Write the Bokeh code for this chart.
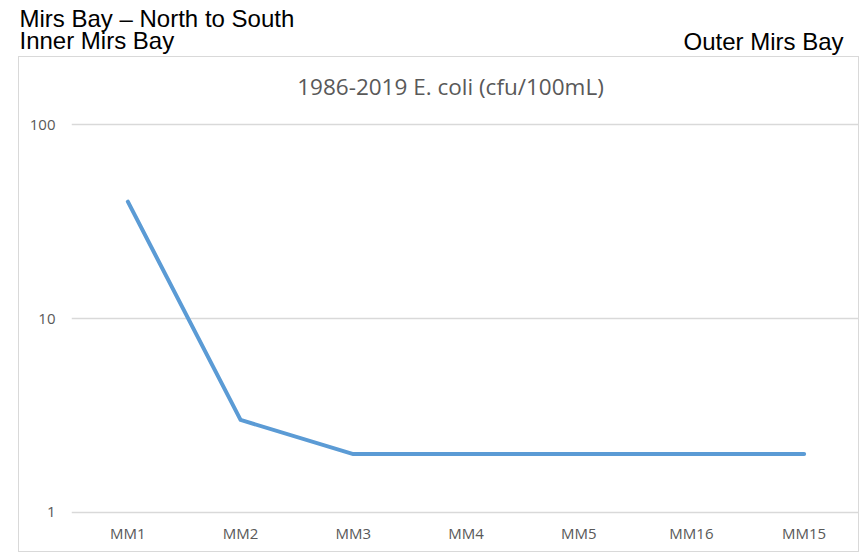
from bokeh.plotting import figure
from bokeh.layouts import column
from bokeh.models import (FactorRange, Range1d, FixedTicker, NumeralTickFormatter,
                          Label, ColumnDataSource)
from bokeh.embed import file_html
from bokeh.resources import INLINE

stations = ["MM1", "MM2", "MM3", "MM4", "MM5", "MM16", "MM15"]
ecoli = [40, 3, 2, 2, 2, 2, 2]
y_ticks = [1, 10, 100]

header_title = "Mirs Bay \u2013 North to South"
header_left = "Inner Mirs Bay"
header_right = "Outer Mirs Bay"
chart_title = "1986-2019 E. coli (cfu/100mL)"

BASE_FIX = 9  # Label baseline correction (px)

# ---------- header (frame = whole canvas) ----------
HW, HH = 866, 56
head = figure(width=HW, height=HH, output_backend="svg", toolbar_location=None,
              x_range=Range1d(0, HW), y_range=Range1d(0, HH),
              min_border=0)
head.frame_align = False
head.axis.visible = False
head.grid.visible = False
head.outline_line_color = None


def hlab(text, sx, sy, align="left"):
    return Label(x=sx, y=HH - (sy - BASE_FIX), x_units="screen", y_units="screen",
                 text=text, text_align=align, text_baseline="alphabetic",
                 text_font="Liberation Sans", text_font_size="24px",
                 text_color="black")


head.add_layout(hlab(header_title, 19, 27))
head.add_layout(hlab(header_left, 19, 49))
head.add_layout(hlab(header_right, 843, 50, align="right"))

# ---------- chart ----------
CW, CH = 841, 496          # canvas inside the light border
FL, FB = 52, 458           # frame left / bottom in canvas px
p = figure(width=CW, height=CH, output_backend="svg", toolbar_location=None,
           x_range=FactorRange(*stations), y_axis_type="log",
           y_range=Range1d(0.965, 221.5),
           min_border_left=FL, min_border_right=0,
           min_border_top=0, min_border_bottom=CH - FB)
p.frame_align = False
p.outline_line_color = None
p.margin = (0, 0, 0, 18)
p.styles = {"border": "1px solid #d9d9d9"}

src = ColumnDataSource(dict(x=stations, y=ecoli))
p.line("x", "y", source=src, line_color="#5b9bd5", line_width=4,
       line_join="round", line_cap="round")

for ax in (p.xaxis[0], p.yaxis[0]):
    ax.axis_line_color = None
    ax.major_tick_line_color = None
    ax.minor_tick_line_color = None
    ax.major_tick_out = 0
    ax.minor_tick_out = 0
    ax.major_label_text_font = "Open Sans"
    ax.major_label_text_font_size = "15px"
    ax.major_label_text_color = "#595959"
p.yaxis.ticker = FixedTicker(ticks=y_ticks, minor_ticks=[])
p.yaxis.formatter = NumeralTickFormatter(format="0")
p.yaxis.major_label_standoff = 16
p.xaxis.major_label_standoff = 7

p.xgrid.grid_line_color = None
p.ygrid.ticker = FixedTicker(ticks=y_ticks, minor_ticks=[])
p.ygrid.grid_line_color = "#d9d9d9"
p.ygrid.grid_line_width = 1.5

p.add_layout(Label(x=379, y=FB - (39 - 10), x_units="screen", y_units="screen",
                   text=chart_title, text_align="center",
                   text_baseline="alphabetic", text_font="Open Sans",
                   text_font_size="22.5px", text_color="#595959"))

layout = column(head, p, spacing=0)
open("out.html", "w").write(file_html(layout, INLINE))
